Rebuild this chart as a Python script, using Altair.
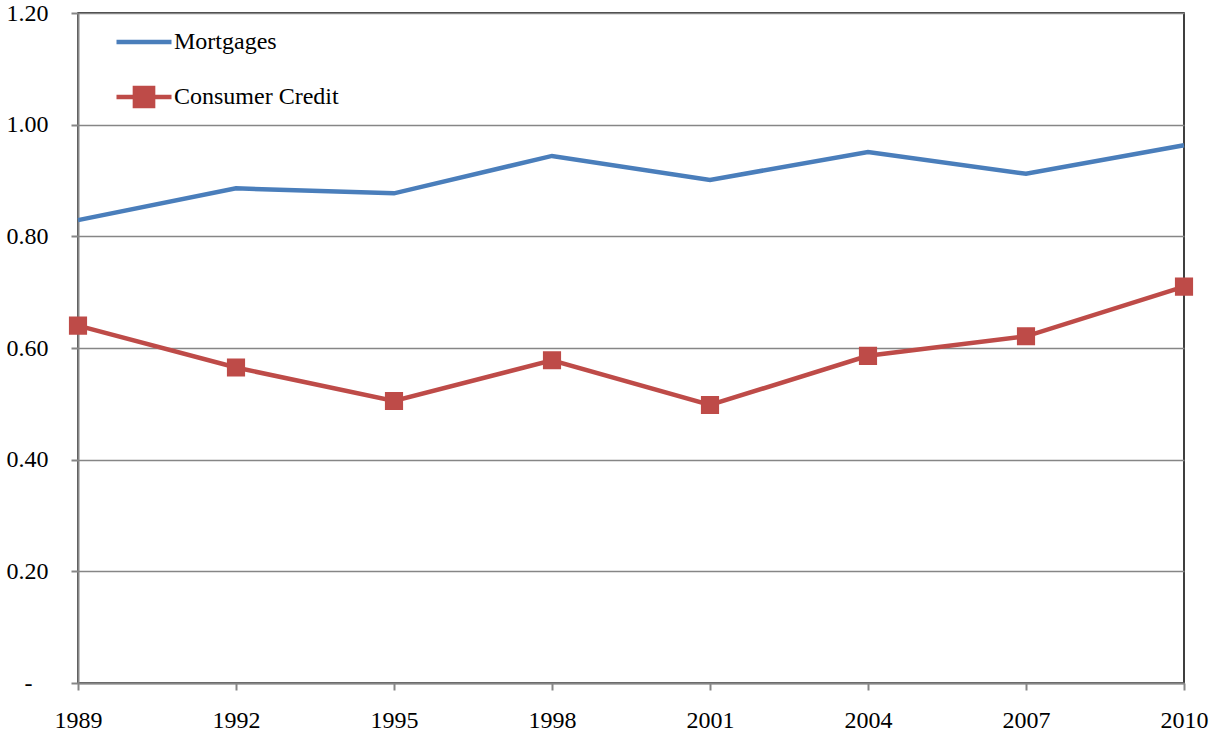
import altair as alt
import pandas as pd

years = ["1989", "1992", "1995", "1998", "2001", "2004", "2007", "2010"]
mortgages = [0.829, 0.886, 0.877, 0.944, 0.901, 0.951, 0.912, 0.963]
consumer_credit = [0.640, 0.565, 0.505, 0.578, 0.498, 0.586, 0.621, 0.710]

series_names = ["Mortgages", "Consumer Credit"]
series_colors = ["#4a7ebb", "#be4b48"]
# glyphs: a plain stroke, and a stroke with a square marker on it
series_glyphs = ["M-1,0H1", "M-1,0H1M-0.33,-0.33H0.33V0.33H-0.33Z"]

rows = []
for name, vals in zip(series_names, [mortgages, consumer_credit]):
    for y, v in zip(years, vals):
        rows.append({"year": y, "value": v, "series": name})
df = pd.DataFrame(rows)

FONT = "Liberation Serif"

x_enc = alt.X(
    "year:O",
    sort=years,
    scale=alt.Scale(type="point", padding=0),
    axis=alt.Axis(title=None, labelAngle=0, labelPadding=18, grid=False),
)
y_enc = alt.Y(
    "value:Q",
    scale=alt.Scale(domain=[0, 1.2], nice=False, zero=True),
    axis=alt.Axis(
        title=None, values=[0, 0.2, 0.4, 0.6, 0.8, 1.0, 1.2],
        labelExpr="datum.value == 0 ? '-' : format(datum.value, '.2f')",
        labelPadding={"condition": {"test": "datum.value == 0", "value": 39}, "value": 23},
        grid=True, gridColor="#868686", gridWidth=1.5,
    ),
)

legend = alt.Legend(
    title=None, orient="none", legendX=36, legendY=-1,
    symbolSize=3025, symbolStrokeWidth=4.5, padding=0,
    rowPadding=13, labelOffset=0, labelFontSize=24, labelFont=FONT,
    labelColor="black", labelLimit=400,
)
color_scale = alt.Scale(domain=series_names, range=series_colors)

lines = alt.Chart(df).mark_line(strokeWidth=4.5).encode(
    x=x_enc,
    y=y_enc,
    color=alt.Color("series:N", sort=series_names, scale=color_scale, legend=legend),
)

squares = alt.Chart(df[df["series"] == "Consumer Credit"]).mark_point(
    filled=True, size=3025, opacity=1, strokeWidth=0.01
).encode(
    x=x_enc,
    y=y_enc,
    color=alt.Color("series:N", sort=series_names, scale=color_scale, legend=legend),
    stroke=alt.Stroke("series:N", sort=series_names, scale=color_scale, legend=legend),
    shape=alt.Shape(
        "series:N", sort=series_names,
        scale=alt.Scale(domain=series_names, range=series_glyphs),
        legend=legend,
    ),
)

chart = (
    alt.layer(lines, squares)
    .properties(
        width=1106, height=670,
        autosize=alt.AutoSizeParams(type="none"),
        padding={"left": 78, "top": 13, "right": 26, "bottom": 53},
        background="white",
    )
    .configure_view(stroke="black", strokeWidth=1.5)
    .configure_axis(
        labelFont=FONT, labelFontSize=24, labelColor="black",
        tickSize=7, tickColor="#868686", tickWidth=2,
        domainColor="#868686", domainWidth=2,
    )
)

chart.save("out.html", embed_options={"renderer": "svg", "actions": False})
